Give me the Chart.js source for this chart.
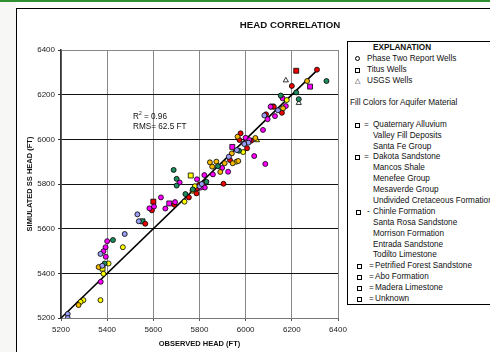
<!DOCTYPE html>
<html>
<head>
<meta charset="utf-8">
<script src="https://cdn.jsdelivr.net/npm/chart.js@4/dist/chart.umd.min.js"></script>
<style>
  html, body { margin:0; padding:0; width:490px; height:352px; overflow:hidden; background:#fff; font-family:"Liberation Sans", Arial, sans-serif; }
  #topbar { position:absolute; left:0; top:0; width:490px; height:2px; background:#2f8f2f; }
  #leftstrip { position:absolute; left:0; top:2px; width:16px; height:350px; background:#f7f8f6; }
  #frame { position:absolute; left:16px; top:8px; width:600px; height:500px; border:1px solid #000; background:#fff; }
  canvas { position:absolute; left:0; top:0; }
  .t { position:absolute; white-space:nowrap; font-size:8.2px; line-height:10px; height:10px; color:#111; }
  #title { position:absolute; left:190px; width:200px; top:19px; text-align:center; font-weight:bold; font-size:9.7px; color:#111; }
  #legend { position:absolute; left:347px; top:41px; width:200px; height:262px; border:1px solid #000; background:#fff; }
  .mk { position:absolute; width:3px; height:3px; border:1px solid #000; background:#fff; }
  .mc { border-radius:50%; }
</style>
</head>
<body>
<div id="topbar"></div>
<div id="leftstrip"></div>
<div id="frame"></div>
<canvas id="c" width="490" height="352"></canvas>
<div id="title">HEAD CORRELATION</div>
<div class="t" style="left:133px;top:112px;">R<sup style="font-size:5px;vertical-align:4px;line-height:0">2</sup> = 0.96</div>
<div class="t" style="left:133px;top:122px;">RMS= 62.5 FT</div>
<div id="legend"></div>
<script>
// ---- data (observed head, simulated head) in feet ----
const xTicks = [5200, 5400, 5600, 5800, 6000, 6200, 6400];
const yTicks = [5200, 5400, 5600, 5800, 6000, 6200, 6400];
const oneToOneLine = [[5200, 5200], [6310, 6310]];

const redCircles = [[6309,6312],[6200,6239],[6157,6119],[6122,6146],[6088,6112],[5978,6027],[5973,5997],[6024,5994],[6006,5960],[5932,5907],[5904,5801],[5823,5806],[5798,5796],[5787,5758],[5790,5780],[5754,5740],[5691,5707],[5594,5682],[5565,5622]];
const redSquares = [[6219,6307],[5600,5721]];
const magentaCircles = [[6160,6184],[6174,6149],[6127,6104],[6108,6146],[6095,6090],[6075,6042],[6000,6007],[6016,5997],[6037,5925],[6085,5890],[5924,5855],[5898,5872],[5821,5840],[5858,5843],[5789,5821],[5823,5784],[5805,5784],[5714,5807],[5694,5719],[5652,5690],[5633,5740],[5583,5691],[5603,5699],[5400,5544],[5393,5517],[5384,5499],[5394,5474],[5372,5362]];
const magentaSquares = [[6279,6236],[5942,5966],[5669,5713],[6115,6147]];
const yellowCircles = [[6178,6176],[5989,5943],[5735,5721],[5468,5517],[5406,5444],[5384,5398],[5371,5280],[5297,5280],[5285,5272],[5780,5790],[5960,5900]];
const yellowSquares = [[5762,5838],[5380,5421]];
const yellowTriangles = [[6049,5996]];
const orangeCircles = [[6266,6261],[6162,6139],[5965,6012],[6042,6006],[5968,5903],[5940,5937],[5944,5893],[5909,5893],[5873,5900],[5845,5897],[5855,5878],[5890,5854],[5363,5428],[5276,5258],[5770,5770]];
const greenCircles = [[6350,6261],[6219,6210],[6230,6180],[6152,6196],[5971,5949],[5688,5863],[5701,5823],[5701,5793],[5739,5755],[5425,5549],[5389,5444],[5771,5776],[5830,5810],[5880,5880]];
const greenSquares = [[5553,5633]];
const lavenderCircles = [[6081,6107],[6012,5985],[5994,5979],[5962,5952],[5927,5922],[5531,5664],[5537,5633],[5476,5576],[5371,5487],[5379,5434],[5229,5218],[5229,5200],[5800,5790],[5810,5800],[6140,6130]];
const whiteTriangles = [[6174,6264],[6230,6163]];

const legendLines = [
  ["EXPLANATION", 48, 373, true],
  ["Phase Two Report Wells", 59, 367],
  ["Titus Wells", 70, 367],
  ["USGS Wells", 81, 367],
  ["Fill Colors for Aquifer Material", 103, 350],
  ["Quaternary Alluvium", 125, 373],
  ["Valley Fill Deposits", 136, 373],
  ["Santa Fe Group", 147, 373],
  ["Dakota Sandstone", 157, 373],
  ["Mancos Shale", 168, 373],
  ["Menefee Group", 179, 373],
  ["Mesaverde Group", 190, 373],
  ["Undivided Cretaceous Formation", 201, 373],
  ["Chinle Formation", 212, 373],
  ["Santa Rosa Sandstone", 223, 373],
  ["Morrison Formation", 234, 373],
  ["Entrada Sandstone", 245, 373],
  ["Todilto Limestone", 255, 373],
  ["Petrified Forest Sandstone", 266, 375],
  ["Abo Formation", 277, 375],
  ["Madera Limestone", 288, 375],
  ["Unknown", 299, 375]
];
// [y, markerX, sign, signX]
const legendMarks = [[125,357,"=",364],[157,357,"=",364],[212,358,"-",367],[266,359,"=",369],[277,359,"=",369],[288,359,"=",369],[299,359,"=",369]];

// ---- legend (HTML text) ----
const lg = document.getElementById('legend');
const L0 = 347, T0 = 41;
legendLines.forEach(([txt, yc, x, bold]) => {
  const d = document.createElement('div');
  d.className = 't';
  d.textContent = txt;
  d.style.left = (x - L0 - 1) + 'px';
  d.style.top = (yc - T0 - 6) + 'px';
  if (bold) d.style.fontWeight = 'bold';
  lg.appendChild(d);
});
function mark(x, y, cls) {
  const m = document.createElement('div');
  m.className = 'mk' + (cls ? ' ' + cls : '');
  m.style.left = (x - L0 - 3) + 'px';
  m.style.top = (y - T0 - 3) + 'px';
  lg.appendChild(m);
}
mark(357, 58, 'mc');
mark(357, 70);
(function(){ const d=document.createElement('div'); d.className='t'; d.textContent='\u25B3'; d.style.fontSize='7px'; d.style.left=(354-L0)+'px'; d.style.top=(81-T0-6)+'px'; lg.appendChild(d); })();
legendMarks.forEach(([y, mx, s, sx]) => {
  mark(mx, y);
  const d = document.createElement('div');
  d.className = 't'; d.textContent = s;
  d.style.left = (sx - L0 - 1) + 'px'; d.style.top = (y - T0 - 6) + 'px';
  lg.appendChild(d);
});

// ---- chart ----
const toXY = a => a.map(p => ({x: p[0], y: p[1]}));
function ds(data, color, style, r) {
  return { type: 'scatter', data: toXY(data), backgroundColor: color, borderColor: '#000', borderWidth: 0.8,
           pointStyle: style, pointRadius: r, pointHoverRadius: r, order: 1 };
}
const font = { family: '"Liberation Sans", Arial, sans-serif', size: 8 };
const plain = v => String(v);
new Chart(document.getElementById('c'), {
  data: {
    datasets: [
      { type: 'line', data: toXY(oneToOneLine), borderColor: '#000', borderWidth: 1.6, pointRadius: 0, fill: false, order: 10 },
      ds(lavenderCircles, '#9a9cf5', 'circle', 2.5),
      ds(greenCircles, '#1e8c5c', 'circle', 2.5),
      ds(orangeCircles, '#f5b800', 'circle', 2.5),
      ds(yellowCircles, '#ffff00', 'circle', 2.5),
      ds(magentaCircles, '#ff00ff', 'circle', 2.5),
      ds(redCircles, '#ee0000', 'circle', 2.5),
      ds(greenSquares, '#1e8c5c', 'rect', 3.5),
      ds(yellowSquares, '#ffff00', 'rect', 3.5),
      ds(magentaSquares, '#ff00ff', 'rect', 3.5),
      ds(redSquares, '#ee0000', 'rect', 3.5),
      ds(yellowTriangles, '#ffff00', 'triangle', 3),
      ds(whiteTriangles, '#ffffff', 'triangle', 3)
    ]
  },
  options: {
    responsive: false,
    animation: false,
    layout: { padding: { left: 16, top: 50, right: 152, bottom: 0 } },
    plugins: { legend: { display: false }, title: { display: false }, tooltip: { enabled: false } },
    scales: {
      x: {
        type: 'linear', position: 'bottom', min: 5200, max: 6400,
        afterBuildTicks: s => { s.ticks = xTicks.map(v => ({ value: v })); },
        afterFit: s => { s.height = 34; },
        ticks: { font: font, color: '#222', padding: 4, maxRotation: 0, callback: plain },
        grid: { color: '#888', lineWidth: 1, tickLength: 3, drawTicks: true, tickColor: '#555' },
        border: { color: '#777', width: 1 },
        title: { display: true, text: 'OBSERVED HEAD (FT)', font: { family: font.family, size: 7.5, weight: 'bold' }, color: '#111', padding: { top: 0, bottom: 4 } }
      },
      y: {
        type: 'linear', position: 'left', min: 5200, max: 6400,
        afterBuildTicks: s => { s.ticks = yTicks.map(v => ({ value: v })); },
        afterFit: s => { s.width = 45; },
        ticks: { font: font, color: '#222', padding: 3, callback: plain },
        grid: { color: ctx => (ctx.tick && ctx.tick.value === 6400) ? '#888' : '#111', lineWidth: 1, tickLength: 3, drawTicks: true, tickColor: '#333' },
        border: { color: '#333', width: 1.5 },
        title: { display: true, text: 'SIMULATED SS HEAD (FT)', font: { family: font.family, size: 7.5, weight: 'bold' }, color: '#111', padding: { top: 9, bottom: 0 } }
      }
    }
  }
});
</script>
</body>
</html>
